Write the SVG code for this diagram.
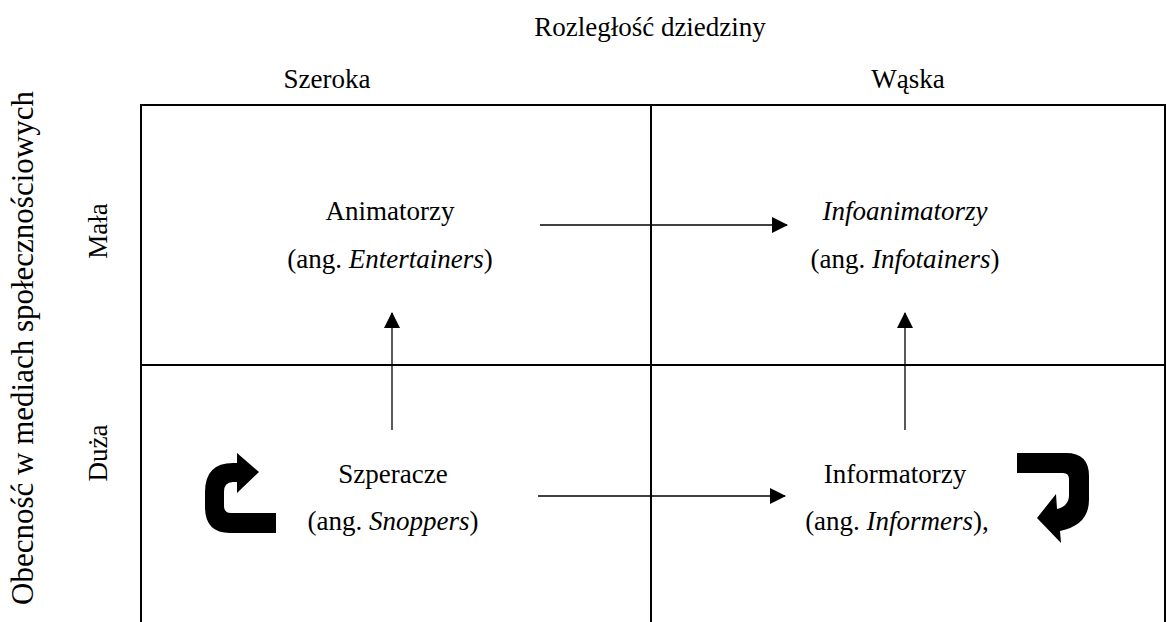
<svg xmlns="http://www.w3.org/2000/svg" width="1167" height="622" viewBox="0 0 1167 622">
  <defs>
    <marker id="arrow" viewBox="0 0 16 16" refX="15" refY="8" markerWidth="16" markerHeight="16" markerUnits="userSpaceOnUse" orient="auto">
      <path d="M0,0 L16,8 L0,16 Z" fill="#000"/>
    </marker>
    <style>
      text { font-family: "Liberation Serif", "Times New Roman", serif; font-size: 27px; fill: #000; }
      .c { text-anchor: middle; }
      .big { font-size: 31px; }
      .grid { fill: none; stroke: #000; stroke-width: 2; }
      .conn { fill: none; stroke: #000; stroke-width: 1.3; marker-end: url(#arrow); }
      .loop { fill: #000; stroke: none; }
    </style>
  </defs>

  <!-- axis titles -->
  <g id="axis-x">
    <text class="c" x="650" y="36">Rozległość dziedziny</text>
    <text class="c" x="327" y="88">Szeroka</text>
    <text class="c" x="908" y="88">Wąska</text>
  </g>
  <g id="axis-y">
    <text class="c big" transform="translate(33,348) rotate(-90)">Obecność w mediach społecznościowych</text>
    <text class="c" transform="translate(107,231) rotate(-90)">Mała</text>
    <text class="c" transform="translate(107,453) rotate(-90)">Duża</text>
  </g>

  <!-- 2x2 matrix -->
  <g id="grid">
    <path class="grid" d="M141,623 V105 H1165 V623"/>
    <line class="grid" x1="141" y1="365" x2="1165" y2="365"/>
    <line class="grid" x1="651" y1="105" x2="651" y2="623"/>
  </g>

  <g id="animatorzy">
    <text class="c" x="390" y="220">Animatorzy</text>
    <text class="c" x="390" y="268">(ang. <tspan font-style="italic">Entertainers</tspan>)</text>
  </g>
  <g id="infoanimatorzy">
    <text class="c" x="905" y="220" font-style="italic">Infoanimatorzy</text>
    <text class="c" x="905" y="268">(ang. <tspan font-style="italic">Infotainers</tspan>)</text>
  </g>
  <g id="szperacze">
    <text class="c" x="393" y="483">Szperacze</text>
    <text class="c" x="393" y="530">(ang. <tspan font-style="italic">Snoppers</tspan>)</text>
    <path class="loop" d="M276,533 L230,533 Q205,533 205,507 L205,492 Q205,463 233,463 L237,463 L237,453 L259,472 L237,493 L237,482 L233,482 Q224,482 224,492 L224,506 Q224,513 231,513 L276,513 Z"/>
  </g>
  <g id="informatorzy">
    <text class="c" x="895" y="483">Informatorzy</text>
    <text class="c" x="897" y="530">(ang. <tspan font-style="italic">Informers</tspan>),</text>
    <path class="loop" d="M1017,453 L1066,453 Q1089,453 1089,476 L1089,500 Q1089,525 1060,531 L1061,543 L1037,518 L1056,494 L1057,509 Q1069,506 1069,495 L1069,479 Q1069,473 1063,473 L1017,473 Z"/>
  </g>

  <!-- transitions between quadrants -->
  <g id="connectors">
    <line class="conn" x1="540" y1="225" x2="787" y2="225"/>
    <line class="conn" x1="538" y1="496" x2="785" y2="496"/>
    <line class="conn" x1="392" y1="430" x2="392" y2="313"/>
    <line class="conn" x1="905" y1="430" x2="905" y2="313"/>
  </g>
</svg>
